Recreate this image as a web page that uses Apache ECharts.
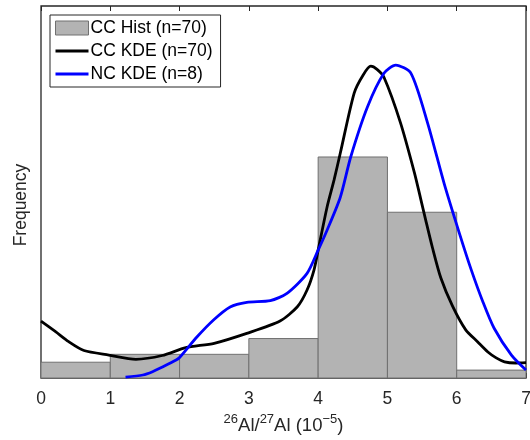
<!DOCTYPE html>
<html>
<head>
<meta charset="utf-8">
<script src="https://cdn.jsdelivr.net/npm/echarts@6/dist/echarts.min.js"></script>
<style>
html,body{margin:0;padding:0;background:#fff;}
#chart{width:530px;height:440px;}
</style>
</head>
<body>
<div id="chart"></div>
<script>
// Histogram bins (edges) and counts
const binEdges = [0, 1, 2, 3, 4, 5, 6, 7];
const histCounts = [2, 3, 3, 5, 28, 21, 1];

// CC KDE (n=70): x values and density (scaled to count units)
const ccX = [0.00, 0.21, 0.40, 0.62, 0.98, 1.37, 1.75, 2.09, 2.50, 2.97, 3.45, 3.70, 3.84, 3.94, 4.00, 4.13, 4.23, 4.32, 4.52, 4.65, 4.76, 4.85, 4.95, 5.19, 5.39, 5.48, 5.55, 5.65, 5.77, 5.94, 6.13, 6.30, 6.45, 6.57, 6.69, 6.85, 7.00];
const ccY = [7.20, 5.87, 4.60, 3.48, 2.91, 2.37, 2.85, 3.84, 4.40, 5.66, 7.22, 9.03, 11.15, 13.68, 16.2, 21.7, 25.1, 28.5, 36.1, 38.4, 39.5, 39.1, 38.1, 32.3, 26.0, 22.7, 20.1, 16.5, 12.7, 9.1, 6.1, 4.6, 3.3, 2.55, 2.05, 1.9, 1.95];

// NC KDE (n=8)
const ncX = [1.22, 1.47, 1.61, 1.76, 1.95, 2.00, 2.25, 2.49, 2.73, 2.97, 3.31, 3.55, 3.84, 4.00, 4.13, 4.32, 4.47, 4.71, 4.95, 5.12, 5.34, 5.58, 5.82, 6.04, 6.21, 6.38, 6.54, 6.79, 7.00];
const ncY = [0.10, 0.38, 0.80, 1.43, 2.28, 2.60, 5.19, 7.35, 9.00, 9.59, 9.80, 10.73, 13.26, 16.2, 18.75, 22.9, 28.0, 34.3, 38.6, 39.65, 38.6, 32.3, 24.6, 18.3, 13.7, 9.6, 6.3, 2.9, 1.0];

const xTicks = [0, 1, 2, 3, 4, 5, 6, 7];

const chart = echarts.init(document.getElementById('chart'));
const FONT = 'Liberation Sans';
const histData = histCounts.map((c, i) => [binEdges[i], binEdges[i + 1], c]);

chart.setOption({
  animation: false,
  textStyle: { fontFamily: FONT },
  grid: { left: 41, right: 4, top: 6, bottom: 62, outerBoundsMode: 'none', containLabel: false,
          show: true, borderColor: '#262626', borderWidth: 1.3, backgroundColor: 'transparent' },
  legend: {
    orient: 'vertical',
    left: 50, top: 15,
    padding: [4, 8, 4, 4],
    itemGap: 5,
    itemWidth: 33,
    itemHeight: 14,
    borderColor: '#262626',
    borderWidth: 1,
    backgroundColor: '#fff',
    textStyle: { fontSize: 17.5, color: '#000', fontFamily: FONT, padding: [0, 0, 0, -3] },
    data: [
      { name: 'CC Hist (n=70)', icon: 'rect', itemStyle: { color: '#b3b3b3', borderColor: '#707070', borderWidth: 1 } },
      { name: 'CC KDE (n=70)', itemStyle: { opacity: 0 }, lineStyle: { width: 3 } },
      { name: 'NC KDE (n=8)', itemStyle: { opacity: 0 }, lineStyle: { width: 3 } }
    ]
  },
  xAxis: [{
    type: 'value', min: 0, max: 7, interval: 1, position: 'bottom',
    axisLine: { show: false },
    axisTick: { show: true, inside: true, length: 5, lineStyle: { color: '#262626' } },
    splitLine: { show: false },
    axisLabel: { fontSize: 17.5, color: '#262626', margin: 12, fontFamily: FONT,
      formatter: v => xTicks.includes(v) ? String(v) : '' },
    name: '{sup|26}{n|Al/}{sup|27}{n|Al (10}{sup|−5}{n|)}',
    nameLocation: 'middle', nameGap: 32,
    nameTextStyle: {
      rich: {
        n: { fontSize: 18.5, color: '#262626', fontFamily: FONT, verticalAlign: 'bottom', lineHeight: 23 },
        sup: { fontSize: 13, color: '#262626', fontFamily: FONT, verticalAlign: 'top', lineHeight: 13 }
      }
    }
  }, {
    type: 'value', min: 0, max: 7, interval: 1, position: 'top',
    axisLine: { show: false },
    axisTick: { show: true, inside: true, length: 5, lineStyle: { color: '#262626' } },
    axisLabel: { show: false },
    splitLine: { show: false }
  }],
  yAxis: {
    type: 'value', min: 0, max: 47.13,
    axisLine: { show: false }, axisTick: { show: false }, axisLabel: { show: false }, splitLine: { show: false },
    name: 'Frequency', nameLocation: 'middle', nameGap: 11,
    nameTextStyle: { fontSize: 17.5, color: '#262626', fontFamily: FONT, padding: [0, 26, 0, 0] }
  },
  series: [{
    name: 'CC Hist (n=70)',
    type: 'custom',
    xAxisIndex: 0,
    itemStyle: { color: '#b3b3b3' },
    renderItem: function (params, api) {
      const p0 = api.coord([api.value(0), 0]);
      const p1 = api.coord([api.value(1), api.value(2)]);
      return {
        type: 'rect',
        shape: { x: p0[0], y: p1[1], width: p1[0] - p0[0], height: p0[1] - p1[1] },
        style: { fill: '#b3b3b3', stroke: '#707070', lineWidth: 1 }
      };
    },
    encode: { x: [0, 1], y: 2 },
    data: histData,
    z: 1
  }, {
    name: 'CC KDE (n=70)',
    type: 'line',
    data: ccX.map((x, i) => [x, ccY[i]]),
    smooth: 0.25,
    symbol: 'none',
    lineStyle: { color: '#000', width: 2.8 },
    itemStyle: { color: '#000' },
    z: 3
  }, {
    name: 'NC KDE (n=8)',
    type: 'line',
    data: ncX.map((x, i) => [x, ncY[i]]),
    smooth: 0.25,
    symbol: 'none',
    lineStyle: { color: '#0000ff', width: 2.8 },
    itemStyle: { color: '#0000ff' },
    z: 4
  }]
});
</script>
</body>
</html>
